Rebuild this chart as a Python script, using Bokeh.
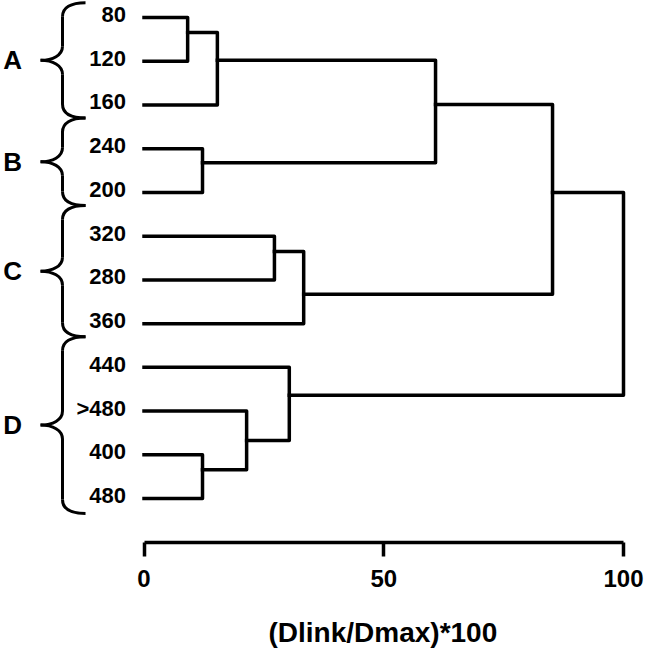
from bokeh.plotting import figure
from bokeh.models import ColumnDataSource, Range1d, FixedTicker, Title, LinearAxis
from bokeh.core.properties import value
from bokeh.embed import file_html
from bokeh.resources import INLINE

# ---------------- data ----------------
leaf_labels = ["80", "120", "160", "240", "200", "320", "280", "360", "440", ">480", "400", "480"]
leaf_pos = list(range(len(leaf_labels)))   # vertical order of leaves (top to bottom)

# merges: ids 0..11 are leaves, 12.. are merged clusters (in order)
merge_left = [0, 12, 3, 13, 5, 16, 15, 10, 9, 8, 18]
merge_right = [1, 2, 4, 14, 6, 7, 17, 11, 19, 20, 21]
merge_height = [9.1, 15.3, 12.2, 60.8, 27.2, 33.3, 85.2, 12.2, 21.4, 30.3, 100.0]
merge_pos = [0.34, 0.98, 3.32, 1.99, 5.35, 6.33, 4.0, 10.34, 9.67, 8.64, 6.3]

group_names = ["A", "B", "C", "D"]
group_first = [0, 3, 5, 8]
group_last = [2, 4, 7, 11]

x_ticks = [0, 50, 100]
x_title = "(Dlink/Dmax)*100"

FONT = value("Liberation Sans")
LW = 3.5

# ---------------- build tree segments ----------------
node_x = [0.0] * len(leaf_labels)
node_y = [float(v) for v in leaf_pos]
for h, yy in zip(merge_height, merge_pos):
    node_x.append(h)
    node_y.append(yy)

xs, ys = [], []
for l, r, h in zip(merge_left, merge_right, merge_height):
    xs.append([node_x[l], h, h, node_x[r]])
    ys.append([node_y[l], node_y[l], node_y[r], node_y[r]])

p = figure(width=650, height=652, output_backend="svg", toolbar_location=None,
           x_range=Range1d(-29.93, 105.63), y_range=Range1d(12.005, -0.389),
           y_axis_location=None, min_border_left=0, min_border_right=0,
           min_border_top=0, min_border_bottom=110)
p.outline_line_color = None
p.xgrid.visible = False
p.ygrid.visible = False
p.background_fill_color = "white"
p.border_fill_color = "white"

p.multi_line(xs, ys, line_color="black", line_width=LW, line_join="round", line_cap="square")

# leaf labels
leaf_src = ColumnDataSource(dict(x=[0.0] * len(leaf_labels), y=leaf_pos, t=leaf_labels))
p.text(x="x", y="y", text="t", source=leaf_src, text_font=FONT, text_font_style="bold",
       text_font_size="22px", text_align="right", text_baseline="middle",
       x_offset=-18, y_offset=-3, text_color="black")

# group braces
xv, xt, xh, r = -17.0, -21.58, -12.2, 0.32
bounds = []
for i, (f, l) in enumerate(zip(group_first, group_last)):
    top = f - 0.34 if i == 0 else (group_last[i - 1] + f) / 2 - 0.2
    bot = l + 0.34 if i == len(group_first) - 1 else (l + group_first[i + 1]) / 2 - 0.2
    bounds.append((top, bot))

bz = dict(x0=[], y0=[], x1=[], y1=[], cx0=[], cy0=[], cx1=[], cy1=[])
seg_x, seg_y = [], []
for top, bot in bounds:
    tip = (top + bot) / 2
    curves = [
        ((xh, top), (xv + (xh - xv) * 0.35, top), (xv, top + r * 0.35), (xv, top + r)),
        ((xv, tip - r), (xv, tip - r * 0.35), (xv - (xv - xt) * 0.45, tip), (xt, tip)),
        ((xt, tip), (xv - (xv - xt) * 0.45, tip), (xv, tip + r * 0.35), (xv, tip + r)),
        ((xv, bot - r), (xv, bot - r * 0.35), (xv + (xh - xv) * 0.35, bot), (xh, bot)),
    ]
    for a, c0, c1, b in curves:
        bz["x0"].append(a[0]); bz["y0"].append(a[1])
        bz["cx0"].append(c0[0]); bz["cy0"].append(c0[1])
        bz["cx1"].append(c1[0]); bz["cy1"].append(c1[1])
        bz["x1"].append(b[0]); bz["y1"].append(b[1])
    seg_x += [[xv, xv], [xv, xv]]
    seg_y += [[top + r, tip - r], [tip + r, bot - r]]

p.bezier(x0="x0", y0="y0", x1="x1", y1="y1", cx0="cx0", cy0="cy0", cx1="cx1", cy1="cy1",
         source=ColumnDataSource(bz), line_color="black", line_width=3)
p.multi_line(seg_x, seg_y, line_color="black", line_width=3)

grp_src = ColumnDataSource(dict(x=[-27.42] * len(group_names),
                                y=[(t + b) / 2 for t, b in bounds], t=group_names))
p.text(x="x", y="y", text="t", source=grp_src, text_font=FONT, text_font_style="bold",
       text_font_size="26px", text_align="center", text_baseline="middle", text_color="black")

# x axis
ax = p.xaxis[0]
ax.bounds = (0, 100)
ax.ticker = FixedTicker(ticks=x_ticks)
ax.axis_line_width = LW
ax.axis_line_color = "black"
ax.major_tick_line_width = LW
ax.major_tick_line_color = "black"
ax.major_tick_in = 0
ax.major_tick_out = 14
ax.minor_tick_line_color = None
ax.major_label_text_font = "Liberation Sans"
ax.major_label_text_font_style = "bold"
ax.major_label_text_font_size = "24px"
ax.major_label_text_color = "black"
ax.major_label_standoff = 13

# invisible spacer panel between tick labels and axis title
spacer = LinearAxis(ticker=FixedTicker(ticks=[50]), axis_line_color="white",
                    major_tick_line_color="white", minor_tick_line_color=None,
                    major_tick_in=0, major_tick_out=22, minor_tick_in=0, minor_tick_out=0,
                    major_label_standoff=0, major_label_overrides={50: ""})
p.add_layout(spacer, "below")

# axis title, placed under the 0-100 span of the axis
p.add_layout(Title(text=x_title, align="left", offset=268, text_font="Liberation Sans",
                   text_font_style="bold", text_font_size="28px", text_color="black",
                   standoff=6), "below")

open("out.html", "w").write(file_html(p, INLINE))
